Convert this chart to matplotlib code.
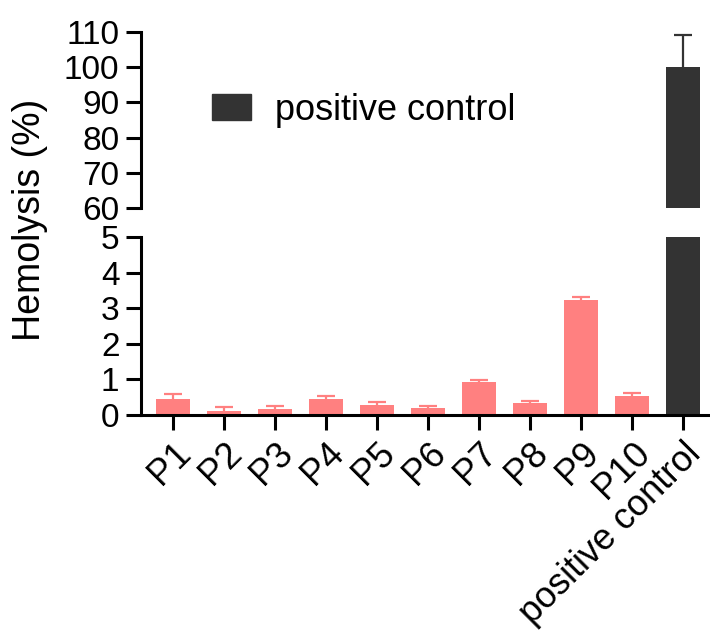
import numpy as np
import matplotlib
matplotlib.use("Agg")
import matplotlib.pyplot as plt

plt.rcParams['font.family'] = ['Liberation Sans', 'DejaVu Sans']

labels = ["P1", "P2", "P3", "P4", "P5", "P6", "P7", "P8", "P9", "P10", "positive control"]
means = [0.45, 0.11, 0.17, 0.45, 0.28, 0.20, 0.93, 0.33, 3.23, 0.53, 100.0]
errs = [0.14, 0.11, 0.08, 0.08, 0.08, 0.05, 0.05, 0.06, 0.09, 0.08, 9.1]

PINK = "#FF8080"
DARK = "#333333"
colors = [PINK] * 10 + [DARK]

fig = plt.figure(figsize=(7.10, 6.39), dpi=100)
ax_top = fig.add_axes([0.1986, 0.6745, 0.8014, 0.2755])
ax_bot = fig.add_axes([0.1986, 0.3505, 0.8014, 0.2785])

x = np.arange(len(labels))
lw = 2.2
cap = 0.17  # half cap width in data units

for ax in (ax_top, ax_bot):
    ax.bar(x, means, width=0.67, color=colors, zorder=2)
    # upward-only error bars, drawn behind the bars
    for xi, m, e, c in zip(x, means, errs, colors):
        ax.vlines(xi, m, m + e, color=c, linewidth=1.6, zorder=1)
        ax.hlines(m + e, xi - cap, xi + cap, color=c, linewidth=1.6, zorder=1)
    ax.set_xlim(-0.63, 10.53)
    ax.spines['top'].set_visible(False)
    ax.spines['right'].set_visible(False)
    ax.spines['left'].set_linewidth(lw)
    ax.spines['bottom'].set_linewidth(lw)
    ax.tick_params(axis='y', direction='out', length=10.5, width=lw, labelsize=24, pad=5)
    ax.tick_params(axis='x', direction='out', length=11, width=lw, labelsize=26, pad=4)
    ax.set_facecolor("none")

ax_top.set_ylim(60, 110)
ax_top.set_yticks([60, 70, 80, 90, 100, 110])
ax_top.spines['bottom'].set_visible(False)
ax_top.spines['left'].set_bounds(60, 110)
ax_top.set_xticks([])

ax_bot.set_ylim(0, 5)
ax_bot.set_yticks([0, 1, 2, 3, 4, 5])
ax_bot.spines['left'].set_bounds(0, 5)
ax_bot.set_xticks(x)
ax_bot.set_xticklabels(labels, rotation=45, ha='right', rotation_mode='anchor')

# legend only for the positive control
handle = plt.Rectangle((0, 0), 1, 1, color=DARK)
fig.legend([handle], ["positive control"], loc='upper left',
           bbox_to_anchor=(0.298, 0.855), frameon=False, fontsize=26,
           handlelength=1.1, handleheight=0.75, handletextpad=0.65, borderpad=0,
           borderaxespad=0)

fig.text(0.042, 0.656, "Hemolysis (%)", rotation=90, fontsize=27, ha='center', va='center')

fig.savefig("out.png", dpi=100)
